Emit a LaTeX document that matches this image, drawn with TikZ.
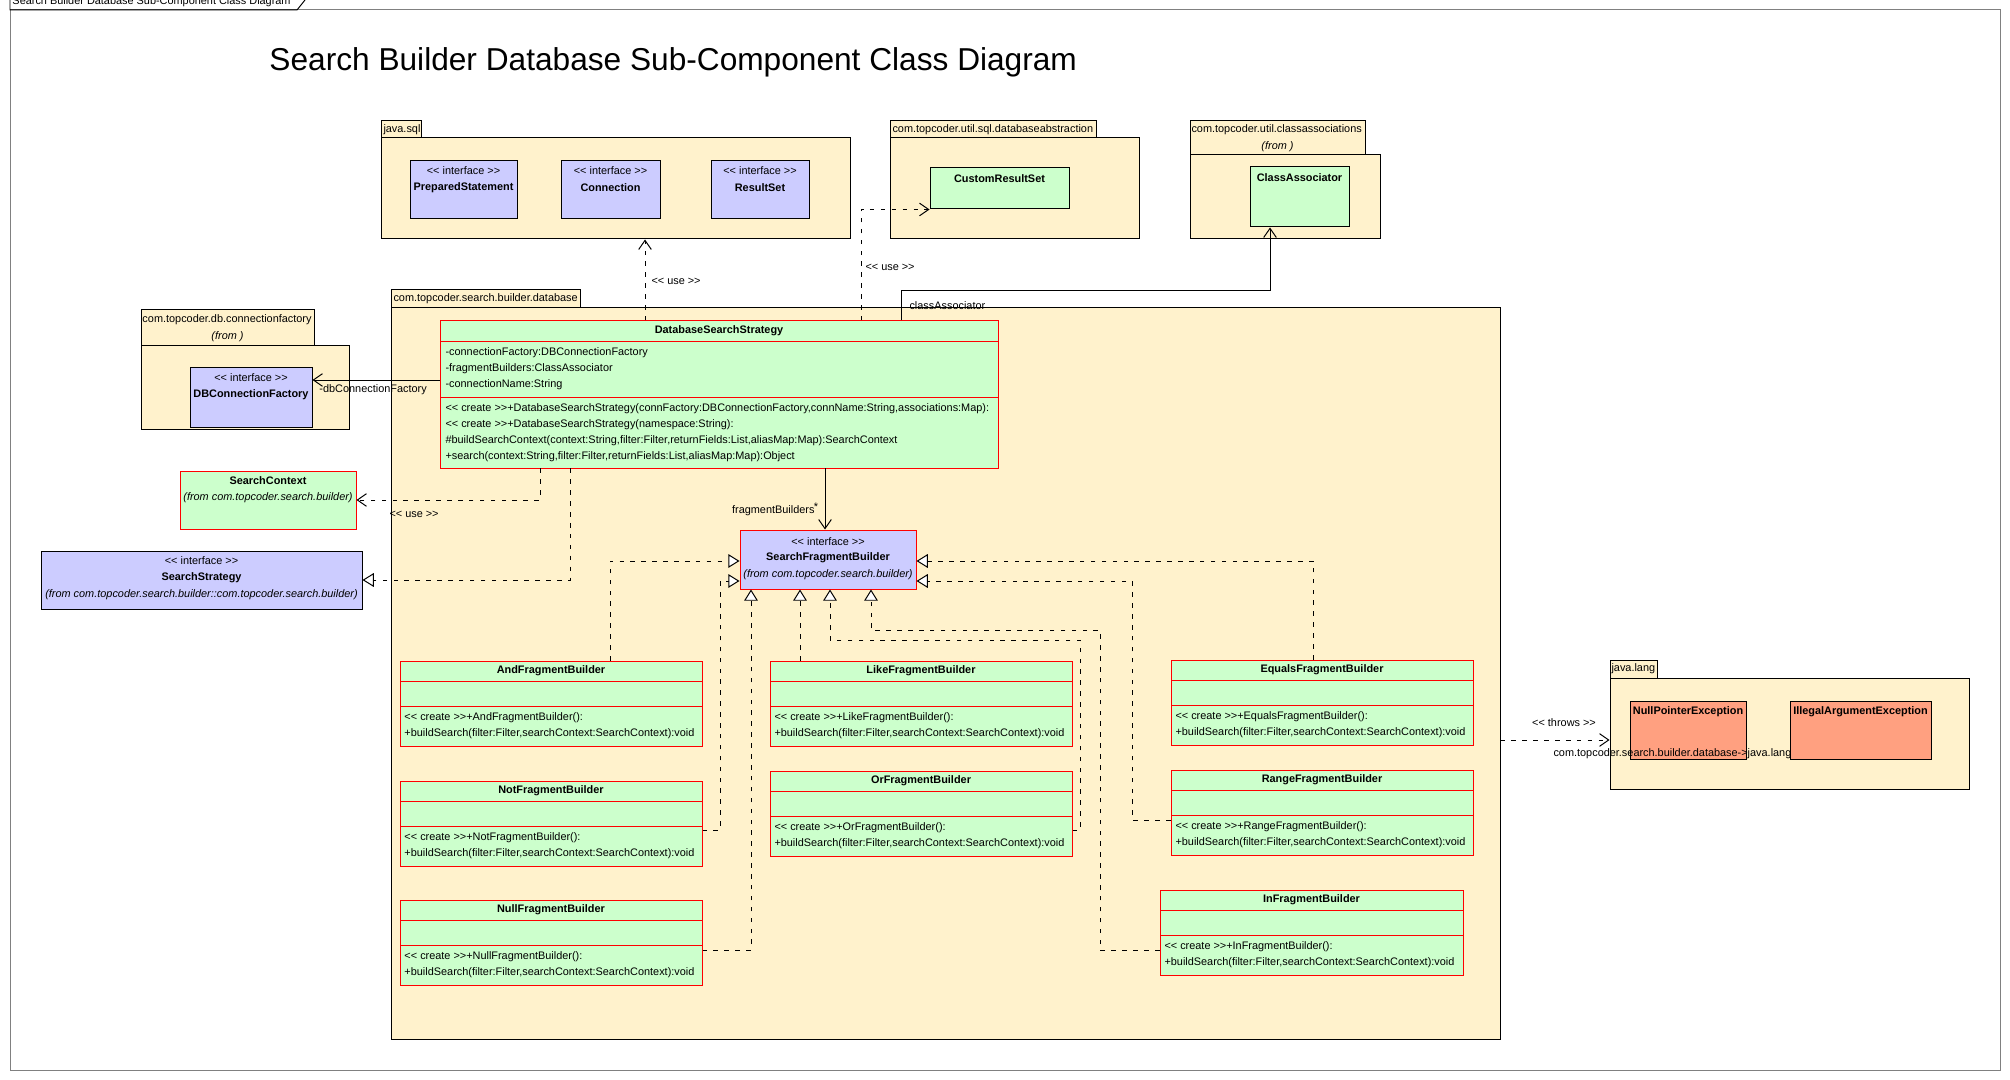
\documentclass[tikz,border=0pt]{standalone}
\usepackage{fontspec}
\setmainfont{Liberation Sans}
\usepackage{xcolor}
\usetikzlibrary{arrows.meta,fit}

\definecolor{pkgFill}{RGB}{255,242,204}
\definecolor{clsFill}{RGB}{204,255,204}
\definecolor{intFill}{RGB}{204,204,255}
\definecolor{excFill}{RGB}{255,160,128}
\newcommand{\stereo}[1]{<\kern0pt< #1 >\kern0pt>}

\begin{document}
\begin{tikzpicture}[x=0.01cm, y=-0.01cm, line width=0.28pt,
    every node/.style={inner sep=0, font=\fontsize{3.1}{4}\selectfont},
    pkg/.style={draw, fill=pkgFill},
    cls/.style={draw=red, fill=clsFill},
    ext/.style={draw, fill=clsFill},
    intf/.style={draw, fill=intFill},
    excp/.style={draw, fill=excFill},
    bold/.style={font=\fontsize{3.1}{4}\selectfont\bfseries},
    ital/.style={font=\fontsize{3.1}{4}\selectfont\itshape},
    depline/.style={dash pattern=on 1.3pt off 1.8pt, -{Straight Barb[length=2.6pt,width=3.6pt]}},
    realline/.style={dash pattern=on 1.3pt off 1.8pt, -{Triangle[length=3.2pt,width=3.9pt,fill=white]}},
    assocline/.style={-{Straight Barb[length=2.6pt,width=3.6pt]}}]
    \useasboundingbox (0,0) rectangle (2010,1080);

    % diagram frame
    \draw[gray] (10,10) rectangle (2000,1070);
    \draw (10,0) -- (10,10) -- (297,10) -- (305,0);
    \node[anchor=base west] (frameTab) at (12,5) {Search Builder Database Sub-Component Class Diagram};
    \node[anchor=base west, font=\fontsize{9}{11}\selectfont] (title) at (269,71) {Search Builder Database Sub-Component Class Diagram};

    % packages
    \node[pkg, fit={(381,121) (421,138)}] (sqlTab) {};
    \node[pkg, fit={(381,138) (850,239)}] (sqlPkg) {};
    \node[anchor=west] (sqlName) at (383,129.5) {java.sql};

    \node[pkg, fit={(890,121) (1096,138)}] (dbaTab) {};
    \node[pkg, fit={(890,138) (1139,239)}] (dbaPkg) {};
    \node[anchor=west] (dbaName) at (892,129.5) {com.topcoder.util.sql.databaseabstraction};

    \node[pkg, fit={(1190,121) (1365,155)}] (caTab) {};
    \node[pkg, fit={(1190,155) (1380,239)}] (caPkg) {};
    \node[anchor=west] (caName) at (1191,130) {com.topcoder.util.classassociations};
    \node[ital] (caFrom) at (1277.5,147) {(from )};

    \node[pkg, fit={(141,310) (314,345)}] (cfTab) {};
    \node[pkg, fit={(141,345) (349,429)}] (cfPkg) {};
    \node[anchor=west] (cfName) at (142,320) {com.topcoder.db.connectionfactory};
    \node[ital] (cfFrom) at (227.5,337) {(from )};

    \node[pkg, fit={(391,290) (580,308)}] (mainTab) {};
    \node[pkg, fit={(391,308) (1500,1039)}] (mainPkg) {};
    \node[anchor=west] (mainName) at (393,299) {com.topcoder.search.builder.database};

    \node[pkg, fit={(1610,660) (1657,678)}] (langTab) {};
    \node[pkg, fit={(1610,678) (1969,789)}] (langPkg) {};
    \node[anchor=west] (langName) at (1611,669) {java.lang};

    % java.sql interfaces
    \node[intf, fit={(410,161) (517,219)}] (prepStmt) {};
    \node (prepStmtSt) at (463.5,171) {\stereo{interface}};
    \node[bold] (prepStmtName) at (463.5,188) {PreparedStatement};
    \node[intf, fit={(561,161) (660,219)}] (connection) {};
    \node (connectionSt) at (610.5,171) {\stereo{interface}};
    \node[bold] (connectionName) at (610.5,188) {Connection};
    \node[intf, fit={(711,161) (809,219)}] (resultSet) {};
    \node (resultSetSt) at (760,171) {\stereo{interface}};
    \node[bold] (resultSetName) at (760,188) {ResultSet};

    % other outside classes
    \node[ext, fit={(930,168) (1069,209)}] (customRs) {};
    \node[bold] (customRsName) at (999.5,179) {CustomResultSet};
    \node[ext, fit={(1250,167) (1349,227)}] (classAssoc) {};
    \node[bold] (classAssocName) at (1299.5,178) {ClassAssociator};
    \node[intf, fit={(190,367) (312,427)}] (connFactory) {};
    \node (connFactorySt) at (251,378) {\stereo{interface}};
    \node[bold] (connFactoryName) at (251,395) {DBConnectionFactory};
    \node[cls, fit={(180,471) (356,529)}] (searchCtx) {};
    \node[bold] (searchCtxName) at (268,481) {SearchContext};
    \node[ital] (searchCtxFrom) at (268,498) {(from com.topcoder.search.builder)};
    \node[intf, fit={(41,551) (362,609)}] (searchStrat) {};
    \node (searchStratSt) at (201.5,561) {\stereo{interface}};
    \node[bold] (searchStratName) at (201.5,578) {SearchStrategy};
    \node[ital] (searchStratFrom) at (201.5,595) {(from com.topcoder.search.builder::com.topcoder.search.builder)};

    % exceptions
    \node[excp, fit={(1630,701) (1746,759)}] (npe) {};
    \node[bold] (npeName) at (1688,712) {NullPointerException};
    \node[excp, fit={(1790,701) (1931,759)}] (iae) {};
    \node[bold] (iaeName) at (1860.5,712) {IllegalArgumentException};

    % DatabaseSearchStrategy
    \node[cls, fit={(440,321) (998,468)}] (dss) {};
    \draw[red] (440,341) -- (998,341) (440,397) -- (998,397);
    \node[bold] (dssName) at (719,331) {DatabaseSearchStrategy};
    \node[anchor=west] (dssA1) at (445,353) {-connectionFactory:DBConnectionFactory};
    \node[anchor=west] (dssA2) at (445,369) {-fragmentBuilders:ClassAssociator};
    \node[anchor=west] (dssA3) at (445,385) {-connectionName:String};
    \node[anchor=west] (dssM1) at (445,409) {\stereo{create}+DatabaseSearchStrategy(connFactory:DBConnectionFactory,connName:String,associations:Map):};
    \node[anchor=west] (dssM2) at (445,425) {\stereo{create}+DatabaseSearchStrategy(namespace:String):};
    \node[anchor=west] (dssM3) at (445,441) {\#buildSearchContext(context:String,filter:Filter,returnFields:List,aliasMap:Map):SearchContext};
    \node[anchor=west] (dssM4) at (445,457) {+search(context:String,filter:Filter,returnFields:List,aliasMap:Map):Object};

    % SearchFragmentBuilder
    \node[cls, fill=intFill, fit={(740,530) (916,589)}] (sfb) {};
    \node (sfbSt) at (828,542) {\stereo{interface}};
    \node[bold] (sfbName) at (828,558) {SearchFragmentBuilder};
    \node[ital] (sfbFrom) at (828,575) {(from com.topcoder.search.builder)};

    % fragment builders
    \foreach \id/\nm/\x/\y/\w in {andB/And/400/661/302, likeB/Like/770/661/302,
        notB/Not/400/781/302, orB/Or/770/771/302, equalsB/Equals/1171/660/302,
        rangeB/Range/1171/770/302, nullB/Null/400/900/302, inB/In/1160/890/303} {
        \node[cls, fit={(\x,\y) (\x+\w,\y+85)}] (\id) {};
        \draw[red] (\x,\y+20) -- ++(\w,0) (\x,\y+45) -- ++(\w,0);
        \node[bold] (\id-name) at (\x+\w/2,\y+10) {\nm FragmentBuilder};
        \node[anchor=west] (\id-ctor) at (\x+4,\y+57) {\stereo{create}+\nm FragmentBuilder():};
        \node[anchor=west] (\id-op) at (\x+4,\y+73) {+buildSearch(filter:Filter,searchContext:SearchContext):void};
    }

    % bend points
    \coordinate (useConn) at (645,280);
    \coordinate (useCrs) at (861,260);
    \coordinate (caA) at (901,291);
    \coordinate (caB) at (1270,291);
    \coordinate (cfA) at (400,380);
    \coordinate (scA) at (540,500);
    \coordinate (ssA) at (570,580);
    \coordinate (sfbA) at (825,500);
    \coordinate (andA) at (610,561);
    \coordinate (notA) at (720,830);
    \coordinate (notC) at (720,581);
    \coordinate (nullA) at (751,950);
    \coordinate (likeA) at (800,620);
    \coordinate (orA) at (1080,830);
    \coordinate (orC) at (1080,640);
    \coordinate (orD) at (830,640);
    \coordinate (inA) at (1100,950);
    \coordinate (inC) at (1100,630);
    \coordinate (inD) at (871,630);
    \coordinate (eqA) at (1313,561);
    \coordinate (rgA) at (1132,820);
    \coordinate (rgC) at (1132,581);
    \coordinate (thA) at (1550,740);

    % arrows
    \draw[depline] (useConn |- dss.north) -- (useConn |- sqlPkg.south);
    \draw[depline] (useCrs |- dss.north) |- (customRs.south west);
    \draw[assocline] (caA |- dss.north) -- (caA) -- (caB) -- (caB |- classAssoc.south);
    \draw[assocline] (cfA -| dss.west) -- (cfA -| connFactory.east);
    \draw[depline] (scA |- dss.south) -- (scA) -- (scA -| searchCtx.east);
    \draw[realline] (ssA |- dss.south) -- (ssA) -- (ssA -| searchStrat.east);
    \draw[assocline] (sfbA |- dss.south) -- (sfbA |- sfb.north);
    \draw[realline] (andA |- andB.north) -- (andA) -- (andA -| sfb.west);
    \draw[realline] (notA -| notB.east) -- (notA) -- (notC) -- (notC -| sfb.west);
    \draw[realline] (nullA -| nullB.east) -- (nullA) -- (nullA |- sfb.south);
    \draw[realline] (likeA |- likeB.north) -- (likeA |- sfb.south);
    \draw[realline] (orA -| orB.east) -- (orA) -- (orC) -- (orD) -- (orD |- sfb.south);
    \draw[realline] (inA -| inB.west) -- (inA) -- (inC) -- (inD) -- (inD |- sfb.south);
    \draw[realline] (eqA |- equalsB.north) -- (eqA) -- (eqA -| sfb.east);
    \draw[realline] (rgA -| rangeB.west) -- (rgA) -- (rgC) -- (rgC -| sfb.east);
    \draw[depline] (thA -| mainPkg.east) -- (thA -| langPkg.west);

    % arrow labels
    \node[anchor=west] (useConnLbl) at (651,281) {\stereo{use}};
    \node[anchor=west] (useCrsLbl) at (865,267) {\stereo{use}};
    \node[anchor=west] (caLbl) at (909,306) {classAssociator};
    \node[anchor=west] (cfLbl) at (319,390) {-dbConnectionFactory};
    \node[anchor=west] (scLbl) at (389,514) {\stereo{use}};
    \node[anchor=east] (sfbLbl) at (815,511) {fragmentBuilders};
    \node (sfbMult) at (816,507) {*};
    \node (thLbl) at (1564,723) {\stereo{throws}};
    \node[anchor=west] (thName) at (1553,754) {com.topcoder.search.builder.database->java.lang};
\end{tikzpicture}
\end{document}
